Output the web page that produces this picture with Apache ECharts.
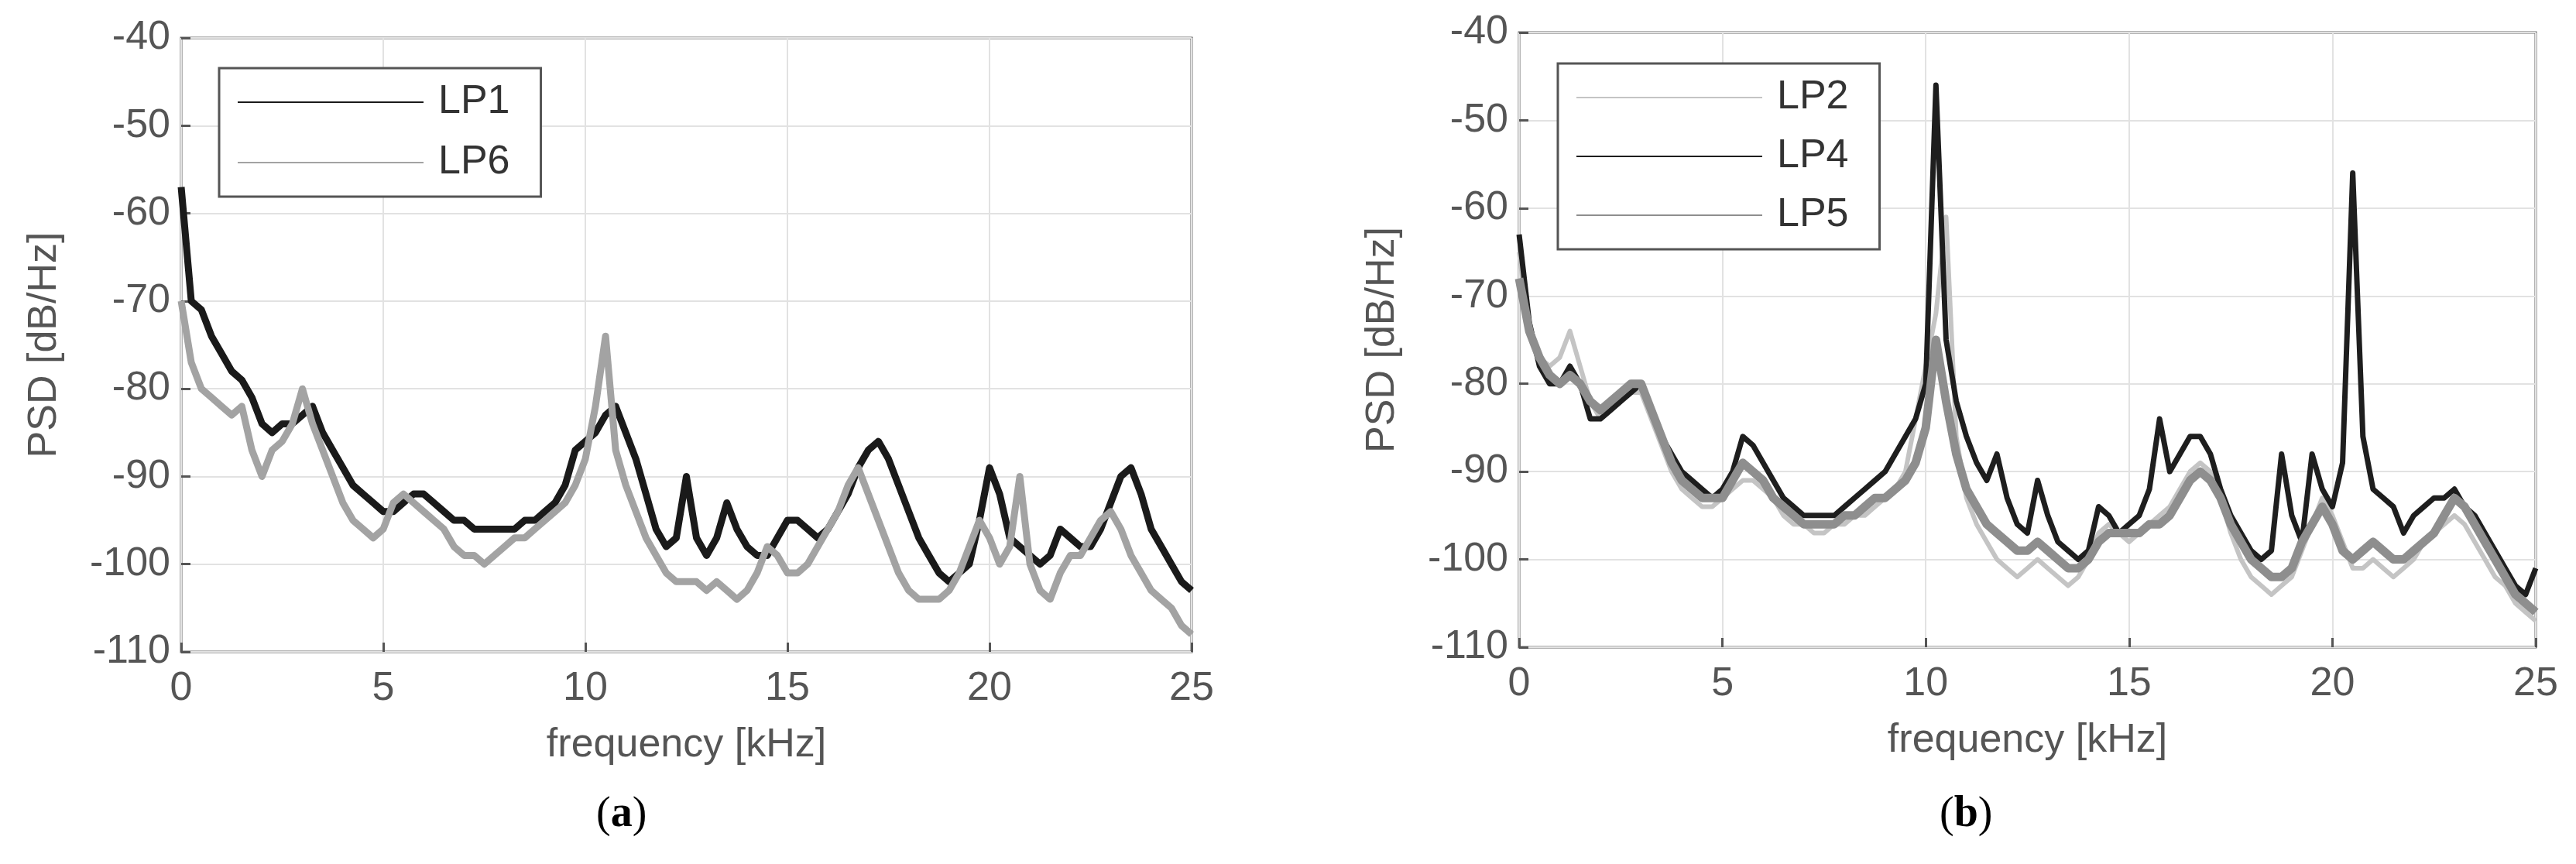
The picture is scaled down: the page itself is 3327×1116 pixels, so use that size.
<!DOCTYPE html>
<html><head><meta charset="utf-8">
<script src="https://cdn.jsdelivr.net/npm/echarts@6/dist/echarts.min.js"></script>
<style>html,body{margin:0;padding:0;background:#fff}#c{width:3327px;height:1116px}</style>
</head><body><div id="c"></div>
<script>
const freqStep = 0.25;
const LP1 = [-57,-70,-71,-74,-76,-78,-79,-81,-84,-85,-84,-84,-83,-82,-85,-87,-89,-91,-92,-93,-94,-94,-93,-92,-92,-93,-94,-95,-95,-96,-96,-96,-96,-96,-95,-95,-94,-93,-91,-87,-86,-85,-83,-82,-85,-88,-92,-96,-98,-97,-90,-97,-99,-97,-93,-96,-98,-99,-99,-97,-95,-95,-96,-97,-96,-94,-92,-89,-87,-86,-88,-91,-94,-97,-99,-101,-102,-101,-100,-95,-89,-92,-97,-98,-99,-100,-99,-96,-97,-98,-98,-96,-93,-90,-89,-92,-96,-98,-100,-102,-103];
const LP6 = [-70,-77,-80,-81,-82,-83,-82,-87,-90,-87,-86,-84,-80,-84,-87,-90,-93,-95,-96,-97,-96,-93,-92,-93,-94,-95,-96,-98,-99,-99,-100,-99,-98,-97,-97,-96,-95,-94,-93,-91,-88,-82,-74,-87,-91,-94,-97,-99,-101,-102,-102,-102,-103,-102,-103,-104,-103,-101,-98,-99,-101,-101,-100,-98,-96,-94,-91,-89,-92,-95,-98,-101,-103,-104,-104,-104,-103,-101,-98,-95,-97,-100,-98,-90,-100,-103,-104,-101,-99,-99,-97,-95,-94,-96,-99,-101,-103,-104,-105,-107,-108];
const LP2 = [-65,-74,-77,-78,-77,-74,-78,-82,-84,-83,-82,-81,-81,-84,-87,-90,-92,-93,-94,-94,-93,-92,-91,-91,-92,-93,-95,-96,-96,-97,-97,-96,-96,-95,-95,-94,-93,-92,-90,-84,-78,-72,-61,-86,-93,-96,-98,-100,-101,-102,-101,-100,-101,-102,-103,-102,-100,-97,-96,-97,-98,-97,-96,-95,-94,-92,-90,-89,-90,-93,-97,-100,-102,-103,-104,-103,-102,-99,-96,-93,-95,-98,-101,-101,-100,-101,-102,-101,-100,-98,-97,-96,-95,-96,-98,-100,-102,-103,-105,-106,-107];
const LP4 = [-63,-73,-78,-80,-80,-78,-80,-84,-84,-83,-82,-81,-80,-83,-86,-88,-90,-91,-92,-93,-92,-90,-86,-87,-89,-91,-93,-94,-95,-95,-95,-95,-94,-93,-92,-91,-90,-88,-86,-84,-80,-46,-75,-82,-86,-89,-91,-88,-93,-96,-97,-91,-95,-98,-99,-100,-99,-94,-95,-97,-96,-95,-92,-84,-90,-88,-86,-86,-88,-92,-95,-97,-99,-100,-99,-88,-95,-98,-88,-92,-94,-89,-56,-86,-92,-93,-94,-97,-95,-94,-93,-93,-92,-94,-95,-97,-99,-101,-103,-104,-101];
const LP5 = [-68,-74,-77,-79,-80,-79,-80,-82,-83,-82,-81,-80,-80,-83,-86,-89,-91,-92,-93,-93,-93,-91,-89,-90,-91,-93,-94,-95,-96,-96,-96,-96,-95,-95,-94,-93,-93,-92,-91,-89,-85,-75,-82,-88,-92,-94,-96,-97,-98,-99,-99,-98,-99,-100,-101,-101,-100,-98,-97,-97,-97,-97,-96,-96,-95,-93,-91,-90,-91,-93,-96,-98,-100,-101,-102,-102,-101,-98,-96,-94,-96,-99,-100,-99,-98,-99,-100,-100,-99,-98,-97,-95,-93,-94,-96,-98,-100,-102,-104,-105,-106];
const xTicks = [0,5,10,15,20,25];
const yTicks = [-110,-100,-90,-80,-70,-60,-50,-40];

const pair = a => a.map((v,i)=>[i*freqStep, v]);
const F = 'Liberation Sans, Arial, sans-serif';
function xA(g){return {type:'value',gridIndex:g,min:xTicks[0],max:xTicks[xTicks.length-1],interval:5,
  name:'frequency [kHz]',nameLocation:'middle',nameGap:95,nameTextStyle:{fontSize:52,color:'#555',fontFamily:F},
  axisLine:{show:false},axisTick:{inside:true,length:12,lineStyle:{color:'#555',width:3}},
  axisLabel:{fontSize:52,color:'#555',fontFamily:F,margin:22},
  splitLine:{lineStyle:{color:'#e2e2e2',width:2}}};}
function yA(g){return {type:'value',gridIndex:g,min:yTicks[0],max:yTicks[yTicks.length-1],interval:10,
  name:'PSD [dB/Hz]',nameLocation:'middle',nameGap:150,nameTextStyle:{fontSize:52,color:'#555',fontFamily:F},
  axisLine:{show:false},axisTick:{inside:true,length:12,lineStyle:{color:'#555',width:3}},
  axisLabel:{fontSize:52,color:'#555',fontFamily:F,margin:14},
  splitLine:{lineStyle:{color:'#e2e2e2',width:2}}};}
function S(name,data,color,w,g){return {name,type:'line',xAxisIndex:g,yAxisIndex:g,data:pair(data),
  showSymbol:false,symbol:'none',lineStyle:{color,width:w,join:'round'},itemStyle:{color},animation:false,z:2};}
const legText = {fontSize:52,color:'#333',fontFamily:F,padding:[0,0,0,14]};
const chart = echarts.init(document.getElementById('c'),null,{renderer:'canvas'});
chart.setOption({
  backgroundColor:'#fff',animation:false,
  grid:[{left:234,top:49,width:1305,height:793,show:true,borderColor:'#666',borderWidth:3,backgroundColor:'transparent'},
        {left:1962,top:42,width:1313,height:794,show:true,borderColor:'#666',borderWidth:3,backgroundColor:'transparent'}],
  xAxis:[xA(0),xA(1)], yAxis:[yA(0),yA(1)],
  legend:[
    {data:['LP1','LP6'],left:283,top:88,orient:'vertical',itemWidth:240,itemHeight:20,itemGap:26,
     padding:[18,40,18,24],borderColor:'#555',borderWidth:3,backgroundColor:'#fff',icon:'path://M0,9H240V11H0Z',
     textStyle:legText},
    {data:['LP2','LP4','LP5'],left:2012,top:82,orient:'vertical',itemWidth:240,itemHeight:20,itemGap:24,
     padding:[18,40,18,24],borderColor:'#555',borderWidth:3,backgroundColor:'#fff',icon:'path://M0,9H240V11H0Z',
     textStyle:legText}
  ],
  series:[
    S('LP1',LP1,'#1a1a1a',9,0),
    S('LP6',LP6,'#a3a3a3',9,0),
    S('LP2',LP2,'#c4c4c4',6,1),
    S('LP4',LP4,'#1e1e1e',7,1),
    S('LP5',LP5,'#8e8e8e',11,1)
  ],
  graphic:[
    {type:'text',left:770,top:1025,style:{text:'({b|a})',font:'56px Liberation Serif',fill:'#000',
      rich:{b:{fontWeight:'bold',fontSize:56,fontFamily:'Liberation Serif'}}}},
    {type:'text',left:2505,top:1025,style:{text:'({b|b})',font:'56px Liberation Serif',fill:'#000',
      rich:{b:{fontWeight:'bold',fontSize:56,fontFamily:'Liberation Serif'}}}}
  ]
});
</script></body></html>
